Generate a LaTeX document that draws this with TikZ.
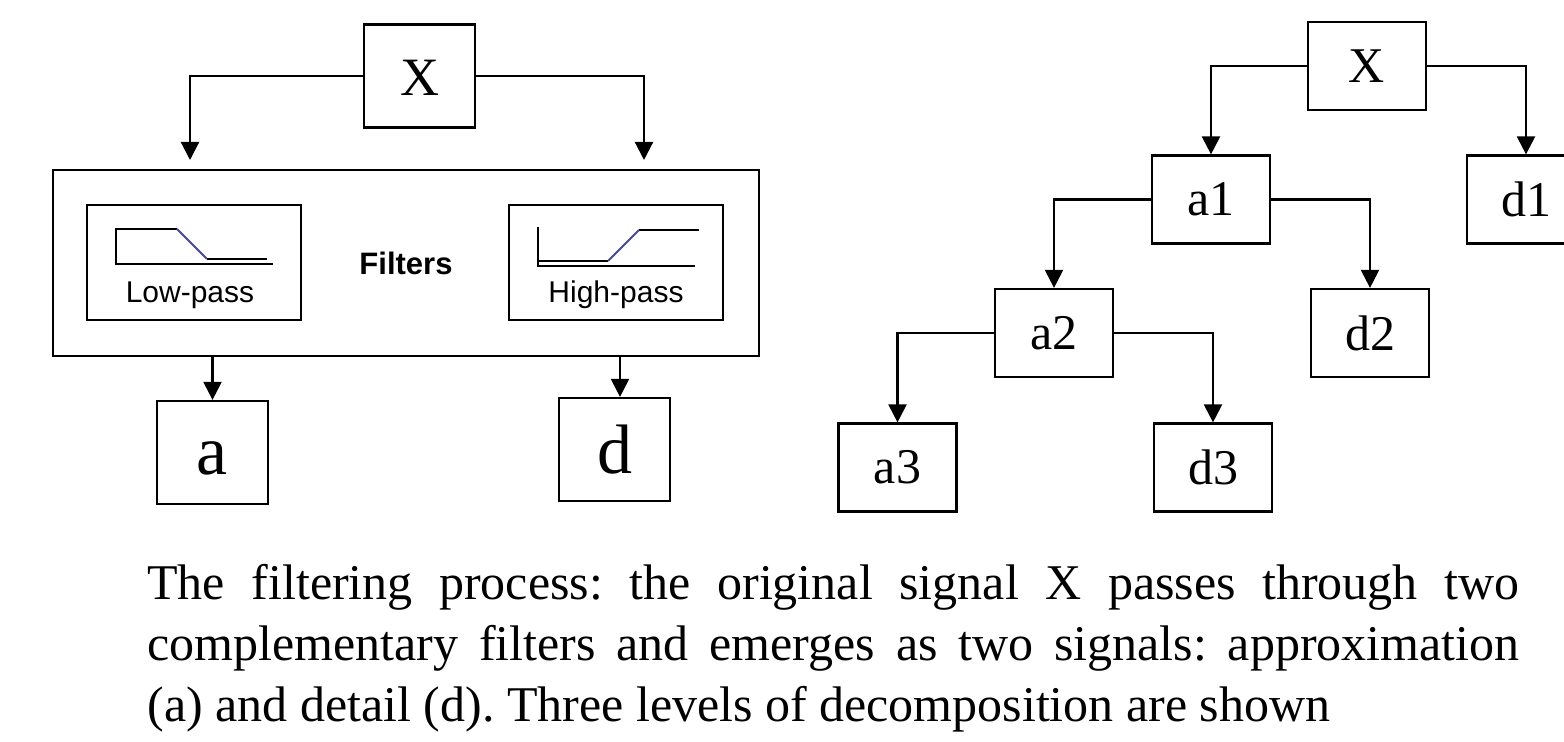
\documentclass[tikz,border=0pt]{standalone}
\usepackage{fontspec}
\setmainfont{Liberation Serif}
\newfontfamily\arialfont{Liberation Sans}
\usetikzlibrary{arrows.meta,positioning}

\definecolor{slopeblue}{RGB}{72,72,150}

\tikzset{
  arr/.style={line width=1.1pt, -{Triangle[width=9pt,length=9pt]}},
  blk/.style={draw, line width=1.1pt, inner sep=0pt, minimum width=59pt, minimum height=44pt,
    font=\fontsize{25}{30}\selectfont},
  bigblk/.style={draw, line width=1.1pt, inner sep=0pt, minimum width=55.5pt, minimum height=51.5pt},
  filterbox/.style={draw, line width=1.1pt, inner sep=0pt, minimum width=107pt, minimum height=57.5pt},
  icon/.style={line width=0.9pt},
  passlabel/.style={font=\arialfont\fontsize{15}{18}\selectfont, inner sep=0pt},
  caption/.style={inner sep=0pt, text width=686pt, align=justify,
    font=\fontsize{25}{30.5}\selectfont\frenchspacing}
}

\begin{document}
\begin{tikzpicture}[x=0.5pt, y=-0.5pt]
    \useasboundingbox (0,0) rectangle (1564,742);
    \clip (0,0) rectangle (1564,742);

    % Single level: X -> filters -> a, d
    \node[bigblk, font=\fontsize{27}{30}\selectfont] (xl) at (419.5,76) {\raisebox{-1pt}[\height][\depth]{X}};
    \node[draw, line width=1.1pt, inner sep=0pt, minimum width=353pt, minimum height=93pt,
      font=\arialfont\bfseries\fontsize{15.5}{18}\selectfont] (filt) at (406,263) {Filters};
    \node[filterbox] (lowp) at (194,262.5) {};
    \node[filterbox] (highp) at (616,262.5) {};
    \node[passlabel] (lowlbl) at (190,295) {Low-pass};
    \node[passlabel] (highlbl) at (616,295) {High-pass};
    \coordinate (lowin) at (190,160);
    \coordinate (highin) at (644,160);
    \node[bigblk, font=\fontsize{35}{40}\selectfont] (aa) at (212.5,452.5) {\raisebox{-3pt}[\height][\depth]{a}};
    \node[bigblk, font=\fontsize{35}{40}\selectfont] (dd) at (614.5,449.5) {d};

    % Low-pass response
    \draw[icon] (116,228) -- (116,264) -- (273,264);
    \draw[icon] (116,229) -- (177,229);
    \draw[icon, slopeblue] (177,229) -- (207,259);
    \draw[icon] (207,259) -- (267,259);
    % High-pass response
    \draw[icon] (538,227) -- (538,266) -- (695,266);
    \draw[icon] (538,261) -- (608,261);
    \draw[icon, slopeblue] (608,261) -- (639,230);
    \draw[icon] (639,230) -- (699,230);

    \draw[arr] (xl.west) -| (lowin);
    \draw[arr] (xl.east) -| (highin);
    \draw[arr] (aa.north |- filt.south) -- (aa.north);
    \draw[arr] ([xshift=2.75pt]dd.north |- filt.south) -- ([xshift=2.75pt]dd.north);

    % Decomposition tree
    \node[blk] (x) at (1367,66) {X};
    \node[blk] (a1) at (1211,199.5) {a1};
    \node[blk] (d1) at (1526,199.5) {d1};
    \node[blk] (a2) at (1054,333) {a2};
    \node[blk] (d2) at (1370,333) {d2};
    \node[blk] (a3) at (897.5,467.5) {a3};
    \node[blk] (d3) at (1213,467.5) {d3};

    \draw[arr] (x.west) -| (a1.north);
    \draw[arr] (x.east) -| (d1.north);
    \draw[arr] (a1.west) -| (a2.north);
    \draw[arr] (a1.east) -| (d2.north);
    \draw[arr] (a2.west) -| (a3.north);
    \draw[arr] (a2.east) -| (d3.north);

    % Caption
    \node[caption, anchor=north west] (cap) at (147,564) {\hyphenpenalty=10000 The filtering process: the original signal X passes through two\linebreak complementary filters and emerges as two signals: approximation\linebreak (a) and detail (d). Three levels of decomposition are shown};
\end{tikzpicture}
\end{document}
